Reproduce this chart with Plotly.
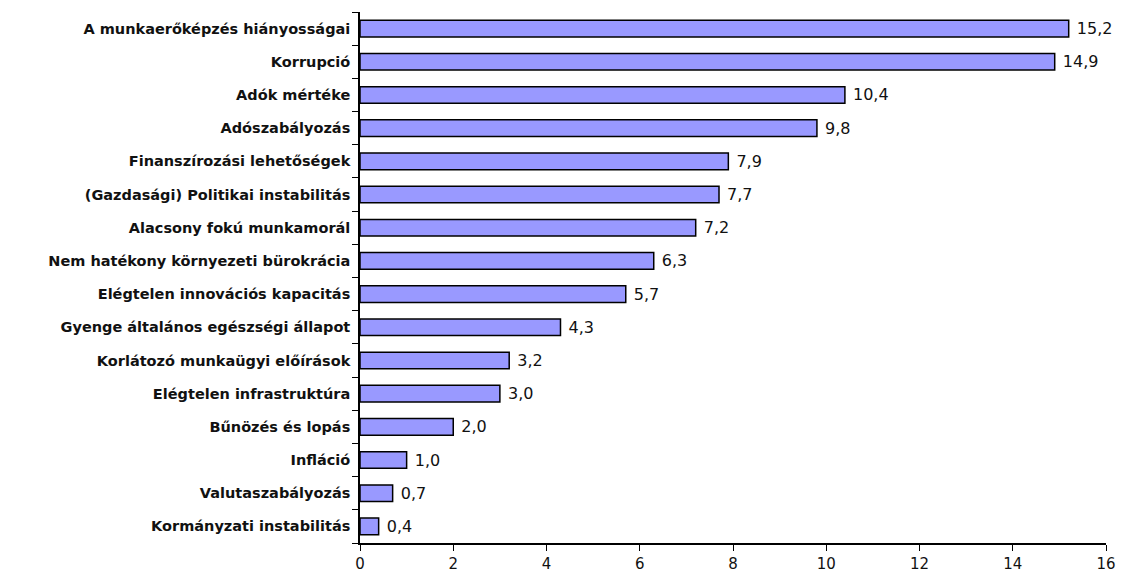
import plotly.graph_objects as go

categories = [
    "A munkaerőképzés hiányosságai",
    "Korrupció",
    "Adók mértéke",
    "Adószabályozás",
    "Finanszírozási lehetőségek",
    "(Gazdasági) Politikai instabilitás",
    "Alacsony fokú munkamorál",
    "Nem hatékony környezeti bürokrácia",
    "Elégtelen innovációs kapacitás",
    "Gyenge általános egészségi állapot",
    "Korlátozó munkaügyi előírások",
    "Elégtelen infrastruktúra",
    "Bűnözés és lopás",
    "Infláció",
    "Valutaszabályozás",
    "Kormányzati instabilitás",
]
values = [15.2, 14.9, 10.4, 9.8, 7.9, 7.7, 7.2, 6.3, 5.7, 4.3, 3.2, 3.0, 2.0, 1.0, 0.7, 0.4]
tick_values = [0, 2, 4, 6, 8, 10, 12, 14, 16]

labels = [" " + f"{v:.1f}".replace(".", ",") for v in values]

fig = go.Figure(go.Bar(
    x=values,
    y=categories,
    orientation="h",
    marker=dict(color="#9999FF", line=dict(color="#000000", width=1.5)),
    text=labels,
    textposition="outside",
    constraintext="none",
    cliponaxis=False,
    textfont=dict(family="DejaVu Sans, sans-serif", size=16, color="#111111"),
))

fig.update_layout(
    width=1121,
    height=565,
    margin=dict(l=352, r=23, t=4, b=30, autoexpand=False),
    plot_bgcolor="white",
    paper_bgcolor="white",
    bargap=0.5,
    showlegend=False,
    xaxis=dict(
        range=[0, 16],
        tickvals=tick_values,
        ticktext=[str(t) for t in tick_values],
        showgrid=False,
        zeroline=False,
        showline=True,
        linecolor="black",
        linewidth=1.5,
        ticks="outside",
        ticklen=6,
        tickcolor="black",
        automargin=False,
        tickfont=dict(family="DejaVu Sans, sans-serif", size=15, color="#111111"),
    ),
    yaxis=dict(
        type="category",
        categoryorder="array",
        categoryarray=categories[::-1],
        autorange=True,
        showgrid=False,
        showline=True,
        linecolor="black",
        linewidth=1.5,
        ticks="outside",
        tickson="boundaries",
        ticklen=6,
        tickcolor="black",
        ticksuffix=" ",
        automargin=False,
        tickfont=dict(family="DejaVu Sans, sans-serif", size=14.5, color="#111111", weight="bold"),
    ),
)

fig.write_html("out.html")
